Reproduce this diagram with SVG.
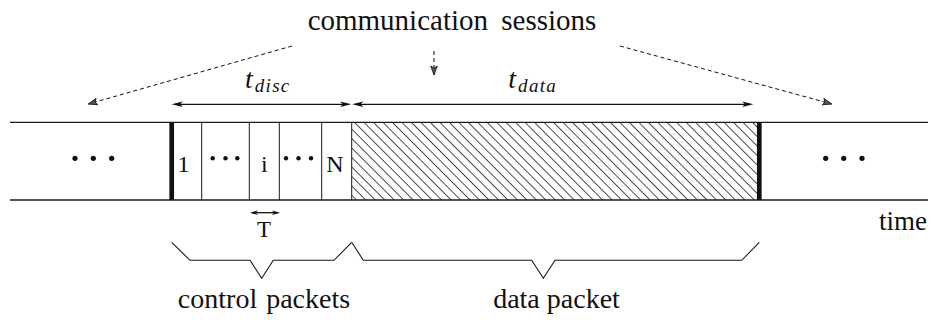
<svg xmlns="http://www.w3.org/2000/svg" width="933" height="320" viewBox="0 0 933 320" font-family="'Liberation Serif', 'Times New Roman', 'DejaVu Serif', serif">
<defs>
<style>
text { font-family: "Liberation Serif", "Times New Roman", "DejaVu Serif", serif; fill: #111; }
.big { font-size: 28px; }
.cell { font-size: 24px; }
.mi { font-style: italic; }
.rule { stroke: #1a1a1a; stroke-width: 1.3; fill: none; }
.cellline { stroke: #1a1a1a; stroke-width: 1; }
.bar { stroke: #111; stroke-width: 4.7; }
.dot { fill: #111; }
.arrow { stroke: #111; stroke-width: 1.3; fill: none; }
.dash { stroke: #111; stroke-width: 1; stroke-dasharray: 4 3; fill: none; }
.brace { stroke: #1a1a1a; stroke-width: 1.1; fill: none; stroke-linejoin: miter; }
</style>
<marker id="ah" viewBox="-10 -5 15 10" refX="0" refY="0" markerWidth="15" markerHeight="10" markerUnits="userSpaceOnUse" orient="auto-start-reverse">
<path d="M3,0 L-8,-2.8 L-5.5,0 L-8,2.8 Z" fill="#111"/>
</marker>
<marker id="ahs" viewBox="-10 -5 15 10" refX="0" refY="0" markerWidth="15" markerHeight="10" markerUnits="userSpaceOnUse" orient="auto-start-reverse">
<path d="M2,0 L-6,-2.3 L-4,0 L-6,2.3 Z" fill="#111"/>
</marker>
<marker id="ahd" viewBox="-12 -6 16 12" refX="0" refY="0" markerWidth="16" markerHeight="12" markerUnits="userSpaceOnUse" orient="auto">
<path d="M0,0 L-9,-3.3 L-7,0 L-9,3.3 Z" fill="#555" stroke="#111" stroke-width="0.8" stroke-linejoin="miter"/>
</marker>
<pattern id="hatch" patternUnits="userSpaceOnUse" width="6.7" height="6.7" patternTransform="rotate(45)">
<line x1="0" y1="3.35" x2="6.7" y2="3.35" stroke="#222" stroke-width="0.8"/>
</pattern>
</defs>

<g id="timeline">
<line class="rule" x1="10" y1="122.3" x2="928" y2="122.3"/>
<line class="rule" x1="10" y1="200" x2="928" y2="200"/>
</g>

<g id="session-left">
<circle class="dot" cx="75" cy="158.3" r="2.6"/>
<circle class="dot" cx="93.3" cy="158.3" r="2.6"/>
<circle class="dot" cx="111.7" cy="158.3" r="2.6"/>
</g>

<g id="session-start">
<line class="bar" x1="171.7" y1="122.3" x2="171.7" y2="200"/>
</g>

<g id="cell-1">
<text class="cell" x="183.5" y="171.5" text-anchor="middle">1</text>
<line class="cellline" x1="201.7" y1="122.3" x2="201.7" y2="200"/>
</g>

<g id="cell-dots-1">
<circle class="dot" cx="212.7" cy="158.3" r="2.2"/>
<circle class="dot" cx="225.5" cy="158.3" r="2.2"/>
<circle class="dot" cx="237.3" cy="158.3" r="2.2"/>
<line class="cellline" x1="249.3" y1="122.3" x2="249.3" y2="200"/>
</g>

<g id="cell-i">
<text class="cell" x="264.3" y="171.5" text-anchor="middle">i</text>
<line class="cellline" x1="279.3" y1="122.3" x2="279.3" y2="200"/>
</g>

<g id="cell-dots-2">
<circle class="dot" cx="286" cy="158.3" r="2.2"/>
<circle class="dot" cx="298.5" cy="158.3" r="2.2"/>
<circle class="dot" cx="311" cy="158.3" r="2.2"/>
<line class="cellline" x1="321.7" y1="122.3" x2="321.7" y2="200"/>
</g>

<g id="cell-N">
<text class="cell" x="335" y="171.5" text-anchor="middle">N</text>
</g>

<g id="data-packet">
<rect x="351.7" y="122.3" width="405.3" height="77.7" fill="url(#hatch)"/>
<line class="cellline" x1="351.7" y1="122.3" x2="351.7" y2="200"/>
<line class="bar" x1="759.3" y1="122.3" x2="759.3" y2="200"/>
</g>

<g id="session-right">
<circle class="dot" cx="825.7" cy="158.3" r="2.6"/>
<circle class="dot" cx="843.7" cy="158.3" r="2.6"/>
<circle class="dot" cx="862" cy="158.3" r="2.6"/>
</g>

<g id="label-communication">
<text x="452" y="30" text-anchor="middle" word-spacing="6" style="font-size:29px">communication sessions</text>
</g>

<g id="label-tdisc">
<text class="big mi" x="245" y="88">t<tspan font-size="19" dx="2" dy="4" letter-spacing="1.3">disc</tspan></text>
</g>

<g id="label-tdata">
<text class="big mi" x="508.3" y="88">t<tspan font-size="19" dx="2" dy="4" letter-spacing="1.3">data</tspan></text>
</g>

<g id="label-T">
<text x="264" y="236.7" font-size="23" text-anchor="middle">T</text>
</g>

<g id="label-time">
<text x="927" y="230" text-anchor="end" style="font-size:27px">time</text>
</g>

<g id="brace-control">
<path class="brace" d="M171.7,242.3 L190,260.3 L250,260.3 L261.7,278.3 L273.3,260.3 L334,260.3 L351.7,242.3"/>
<text class="big" x="264" y="308.3" text-anchor="middle" word-spacing="2">control packets</text>
</g>

<g id="brace-data">
<path class="brace" d="M351.7,242.3 L363.3,260.3 L531.7,260.3 L543.3,278.3 L555,260.3 L741.7,260.3 L759.3,242.3"/>
<text class="big" x="556.5" y="308.3" text-anchor="middle">data packet</text>
</g>

<g id="connectors">
<line class="arrow" x1="174.7" y1="104.3" x2="348.2" y2="104.3" marker-start="url(#ah)" marker-end="url(#ah)"/>
<line class="arrow" x1="355.2" y1="104.3" x2="750.3" y2="104.3" marker-start="url(#ah)" marker-end="url(#ah)"/>
<line class="arrow" x1="252" y1="212.7" x2="278" y2="212.7" stroke-width="1.1" marker-start="url(#ahs)" marker-end="url(#ahs)"/>
<line class="dash" x1="292" y1="46" x2="88.3" y2="104" marker-end="url(#ahd)"/>
<line class="dash" x1="434" y1="51" x2="434" y2="75" marker-end="url(#ahd)"/>
<line class="dash" x1="620" y1="46" x2="831.7" y2="104" marker-end="url(#ahd)"/>
</g>
</svg>
